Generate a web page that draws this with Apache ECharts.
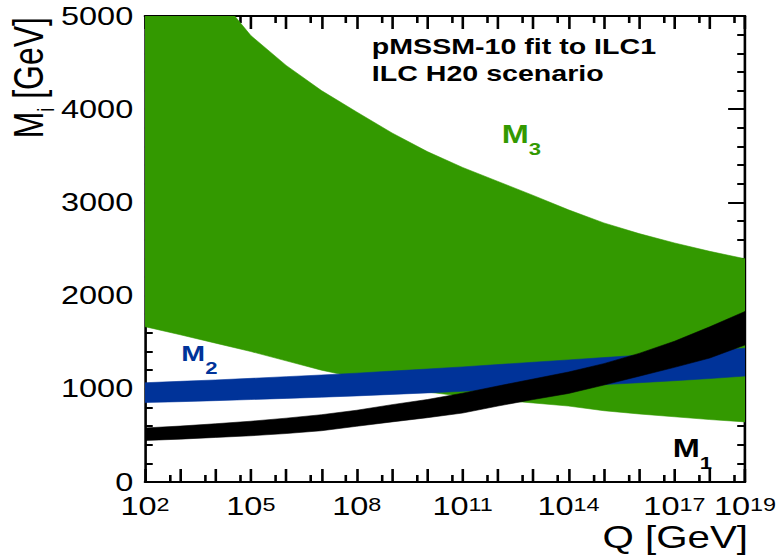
<!DOCTYPE html>
<html>
<head>
<meta charset="utf-8">
<script src="https://cdn.jsdelivr.net/npm/echarts@6/dist/echarts.min.js"></script>
<style>
  html, body { margin: 0; padding: 0; background: #fff; }
  #wrap { width: 780px; height: 555px; overflow: hidden; }
  /* the plot is laid out at 600px and widened to 780px, giving the broad lettering */
  #chart { width: 600px; height: 555px; transform: scaleX(1.3); transform-origin: 0 0; }
</style>
</head>
<body>
<div id="wrap"><div id="chart"></div></div>
<script>
// x positions are log10(Q / GeV)
const logQ = [2, 3, 4, 5, 6, 7, 8, 9, 10, 11, 12, 13, 14, 15, 16, 17, 18, 19];

// M3 (gluino mass parameter) band, GeV
const m3Upper = [6300, 5700, 5250, 4790, 4470, 4200, 3970, 3745, 3545, 3375, 3225, 3075, 2920, 2780, 2665, 2565, 2475, 2395];
const m3Lower = [1667, 1580, 1490, 1400, 1300, 1200, 1120, 1040, 965, 920, 880, 848, 815, 765, 730, 700, 670, 645];

// M2 (wino mass parameter) band, GeV
const m2Upper = [1065, 1080, 1095, 1112, 1130, 1148, 1168, 1190, 1212, 1235, 1260, 1285, 1310, 1335, 1360, 1385, 1410, 1435];
const m2Lower = [852, 862, 873, 885, 897, 910, 924, 940, 956, 973, 990, 1008, 1026, 1045, 1065, 1087, 1110, 1137];

// M1 (bino mass parameter) band, GeV
const m1Upper = [580, 600, 625, 652, 685, 722, 770, 830, 885, 953, 1030, 1105, 1180, 1270, 1380, 1510, 1665, 1830];
const m1Lower = [445, 460, 478, 496, 520, 550, 598, 645, 690, 740, 815, 885, 950, 1040, 1135, 1230, 1330, 1470];

// decades that carry a 10^n label
const xLabelExps = [2, 5, 8, 11, 14, 17, 19];
// minor tick positions at 5 x 10^n
const xMinorTicks = logQ.slice(0, -1).map(n => n + Math.log10(5));

const FONT = "'Liberation Sans', Arial, Helvetica, sans-serif";
const GREEN = '#339900';
const BLUE = '#003399';
const BLACK = '#000000';

// a filled band between two curves, drawn as one polygon in data coordinates
function band(lower, upper, color) {
  return {
    type: 'custom',
    coordinateSystem: 'cartesian2d',
    xAxisIndex: 0,
    yAxisIndex: 0,
    silent: true,
    data: [[logQ[0], lower[0]]],
    renderItem: (params, api) => {
      const pts = [];
      for (let i = 0; i < logQ.length; i++) pts.push(api.coord([logQ[i], upper[i]]));
      for (let i = logQ.length - 1; i >= 0; i--) pts.push(api.coord([logQ[i], lower[i]]));
      const cs = params.coordSys;
      return {
        type: 'polygon',
        shape: { points: pts },
        style: { fill: color, stroke: color, lineWidth: 0.5 },
        clipPath: { type: 'rect', shape: { x: cs.x, y: cs.y, width: cs.width, height: cs.height } }
      };
    }
  };
}

const frameLine = { show: true, lineStyle: { color: BLACK, width: 2 } };

const chart = echarts.init(document.getElementById('chart'), null, { renderer: 'svg' });

chart.setOption({
  animation: false,
  backgroundColor: '#fff',
  grid: { left: 111.5, right: 24.6, top: 16, bottom: 73 },
  xAxis: [
    {
      type: 'value', min: 2, max: 19, interval: 1, position: 'bottom',
      axisLine: frameLine,
      axisTick: { show: true, inside: true, length: 13, lineStyle: { color: BLACK, width: 2 } },
      splitLine: { show: false },
      axisLabel: {
        show: true, margin: 14, color: BLACK, fontFamily: FONT,
        formatter: v => xLabelExps.includes(Math.round(v)) ? '{b|10}{s|' + Math.round(v) + '}' : '',
        rich: {
          b: { fontSize: 25, lineHeight: 23, fontFamily: FONT, color: BLACK, verticalAlign: 'bottom' },
          s: { fontSize: 18, lineHeight: 10, fontFamily: FONT, color: BLACK, verticalAlign: 'top' }
        }
      }
    },
    {
      type: 'value', min: 2, max: 19, position: 'bottom',
      axisLine: { show: false },
      axisTick: { show: true, inside: true, length: 7, customValues: xMinorTicks, lineStyle: { color: BLACK, width: 2 } },
      axisLabel: { show: false },
      splitLine: { show: false }
    },
    {
      type: 'value', min: 2, max: 19, interval: 1, position: 'top',
      axisLine: frameLine,
      axisTick: { show: true, inside: true, length: 13, lineStyle: { color: BLACK, width: 2 } },
      axisLabel: { show: false },
      splitLine: { show: false }
    },
    {
      type: 'value', min: 2, max: 19, position: 'top',
      axisLine: { show: false },
      axisTick: { show: true, inside: true, length: 7, customValues: xMinorTicks, lineStyle: { color: BLACK, width: 2 } },
      axisLabel: { show: false },
      splitLine: { show: false }
    }
  ],
  yAxis: [
    {
      type: 'value', min: 0, max: 5000, interval: 1000, position: 'left',
      axisLine: frameLine,
      axisTick: { show: true, inside: true, length: 13, lineStyle: { color: BLACK, width: 2 } },
      minorTick: { show: true, splitNumber: 5, length: 6, lineStyle: { color: BLACK, width: 2 } },
      splitLine: { show: false },
      minorSplitLine: { show: false },
      axisLabel: { show: true, margin: 9, fontSize: 25, lineHeight: 20, fontFamily: FONT, color: BLACK, formatter: v => String(v) }
    },
    {
      type: 'value', min: 0, max: 5000, interval: 1000, position: 'right',
      axisLine: frameLine,
      axisTick: { show: true, inside: true, length: 13, lineStyle: { color: BLACK, width: 2 } },
      minorTick: { show: true, splitNumber: 5, length: 6, lineStyle: { color: BLACK, width: 2 } },
      splitLine: { show: false },
      minorSplitLine: { show: false },
      axisLabel: { show: false }
    }
  ],
  series: [
    band(m3Lower, m3Upper, GREEN),
    band(m2Lower, m2Upper, BLUE),
    band(m1Lower, m1Upper, BLACK)
  ],
  graphic: [
    {
      type: 'text', x: 286, y: 46, silent: true,
      style: { text: 'pMSSM-10 fit to ILC1', fontSize: 22, fontWeight: 'bold', fontFamily: FONT, fill: BLACK, textVerticalAlign: 'middle' }
    },
    {
      type: 'text', x: 286, y: 73, silent: true,
      style: { text: 'ILC H20 scenario', fontSize: 22, fontWeight: 'bold', fontFamily: FONT, fill: BLACK, textVerticalAlign: 'middle' }
    },
    {
      type: 'text', x: 386, y: 122, silent: true,
      style: {
        text: '{m|M}{s|3}', textVerticalAlign: 'top',
        rich: {
          m: { fontSize: 25, lineHeight: 28, fontWeight: 'bold', fontFamily: FONT, fill: GREEN, color: GREEN, verticalAlign: 'top' },
          s: { fontSize: 17, lineHeight: 17, padding: [18, 0, 0, 0], fontWeight: 'bold', fontFamily: FONT, fill: GREEN, color: GREEN, verticalAlign: 'top' }
        }
      }
    },
    {
      type: 'text', x: 139.5, y: 342, silent: true,
      style: {
        text: '{m|M}{s|2}', textVerticalAlign: 'top',
        rich: {
          m: { fontSize: 22, lineHeight: 26, fontWeight: 'bold', fontFamily: FONT, fill: BLUE, color: BLUE, verticalAlign: 'top' },
          s: { fontSize: 17, lineHeight: 17, padding: [17, 0, 0, 0], fontWeight: 'bold', fontFamily: FONT, fill: BLUE, color: BLUE, verticalAlign: 'top' }
        }
      }
    },
    {
      type: 'text', x: 517.5, y: 436, silent: true,
      style: {
        text: '{m|M}{s|1}', textVerticalAlign: 'top',
        rich: {
          m: { fontSize: 25, lineHeight: 28, fontWeight: 'bold', fontFamily: FONT, fill: BLACK, color: BLACK, verticalAlign: 'top' },
          s: { fontSize: 17, lineHeight: 17, padding: [18, 0, 0, 0], fontWeight: 'bold', fontFamily: FONT, fill: BLACK, color: BLACK, verticalAlign: 'top' }
        }
      }
    },
    {
      type: 'text', x: 575.4, y: 537, silent: true,
      style: { text: 'Q [GeV]', fontSize: 31, lineHeight: 20, fontFamily: FONT, fill: BLACK, textAlign: 'right', textVerticalAlign: 'middle' }
    },
    {
      type: 'text', x: 23, y: 17, rotation: Math.PI / 2, silent: true,
      style: {
        text: '{m|M}{s|i}{m| [GeV]}', textAlign: 'right', textVerticalAlign: 'middle',
        rich: {
          m: { fontSize: 32, lineHeight: 34, fontFamily: FONT, fill: BLACK, color: BLACK, verticalAlign: 'top' },
          s: { fontSize: 18, lineHeight: 18, padding: [20, 0, 0, 0], fontFamily: FONT, fill: BLACK, color: BLACK, verticalAlign: 'top' }
        }
      }
    }
  ]
});
</script>
</body>
</html>
